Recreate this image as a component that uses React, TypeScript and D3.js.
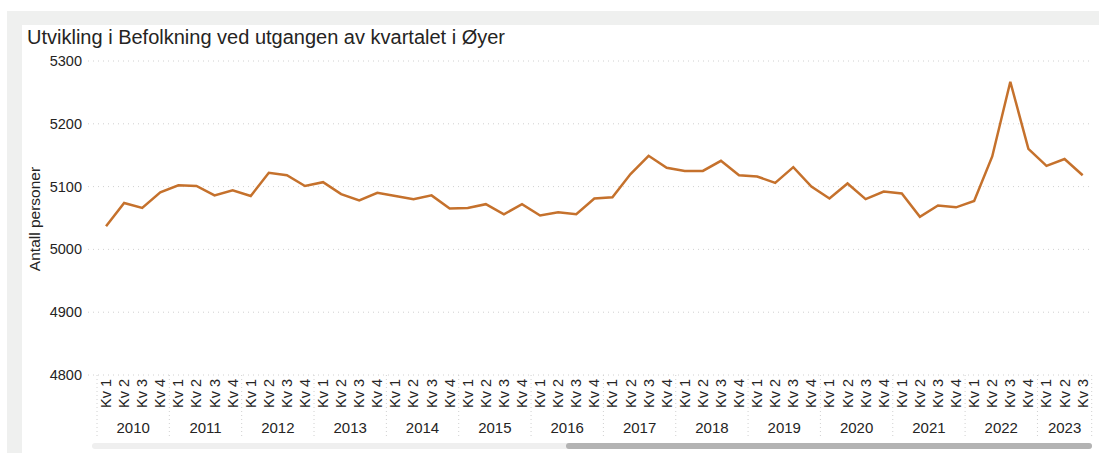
import React, { useRef, useEffect } from "react";
import * as d3 from "d3";

const years = ["2010", "2011", "2012", "2013", "2014", "2015", "2016", "2017", "2018", "2019", "2020", "2021", "2022", "2023"];
const quarters = ["Kv 1", "Kv 2", "Kv 3", "Kv 4"];
// population at end of each quarter, 2010 Kv 1 .. 2023 Kv 3
const population = [
  5037, 5074, 5066, 5091,
  5102, 5101, 5086, 5094,
  5085, 5122, 5118, 5101,
  5107, 5088, 5078, 5090,
  5085, 5080, 5086, 5065,
  5066, 5072, 5056, 5072,
  5054, 5059, 5056, 5081,
  5083, 5120, 5149, 5130,
  5125, 5125, 5141, 5118,
  5116, 5106, 5131, 5100,
  5081, 5105, 5080, 5092,
  5089, 5052, 5070, 5067,
  5077, 5148, 5267, 5160,
  5133, 5144, 5118,
];
const yTicks = [4800, 4900, 5000, 5100, 5200, 5300];

const W = 1099;
const H = 453;
const FONT = "'Liberation Sans', Arial, sans-serif";

export default function App() {
  const ref = useRef<SVGSVGElement>(null);

  useEffect(() => {
    const svg = d3.select(ref.current);
    svg.selectAll("*").remove();

    const points = population.map((v, i) => ({
      key: `${years[Math.floor(i / 4)]}-${i % 4}`,
      year: years[Math.floor(i / 4)],
      q: quarters[i % 4],
      value: v,
    }));

    const left = 97;
    const right = 1091.7;
    const top = 61;
    const bottom = 375;

    const x = d3.scalePoint<string>().domain(points.map(d => d.key)).range([left, right]).padding(0.5);
    const y = d3.scaleLinear().domain([4800, 5300]).range([bottom, top]);
    const step = x.step();

    // panel background + white card
    svg.append("rect").attr("x", 7).attr("y", 11).attr("width", W - 7).attr("height", H - 11).attr("fill", "#eff0ef");
    svg.append("rect").attr("x", 22).attr("y", 25).attr("width", W - 22).attr("height", H - 25).attr("fill", "#fff");

    svg.append("text")
      .attr("x", 27).attr("y", 44)
      .attr("font-family", FONT).attr("font-size", 20).attr("fill", "#252423")
      .text("Utvikling i Befolkning ved utgangen av kvartalet i Øyer");

    // gridlines
    svg.append("g").selectAll("line").data(yTicks).enter().append("line")
      .attr("x1", 88).attr("x2", right)
      .attr("y1", d => y(d)).attr("y2", d => y(d))
      .attr("stroke", "#d0d0d0").attr("stroke-width", 1).attr("stroke-dasharray", "1,4");

    svg.append("g").selectAll("text").data(yTicks).enter().append("text")
      .attr("x", 82).attr("y", d => y(d))
      .attr("text-anchor", "end").attr("dominant-baseline", "central")
      .attr("font-family", FONT).attr("font-size", 14.5).attr("fill", "#252423")
      .text(d => d);

    svg.append("text")
      .attr("transform", `translate(34,${(top + bottom) / 2 + 1}) rotate(-90)`)
      .attr("text-anchor", "middle").attr("dominant-baseline", "central")
      .attr("font-family", FONT).attr("font-size", 15.5).attr("fill", "#252423")
      .text("Antall personer");

    // quarter labels
    svg.append("g").selectAll("text").data(points).enter().append("text")
      .attr("transform", d => `translate(${x(d.key)},408) rotate(-90)`)
      .attr("dominant-baseline", "central")
      .attr("font-family", FONT).attr("font-size", 14.5).attr("fill", "#252423")
      .text(d => d.q);

    // year groups
    const groups = years.map(yr => {
      const ks = points.filter(p => p.year === yr).map(p => p.key);
      return { year: yr, x0: x(ks[0])! - step / 2, x1: x(ks[ks.length - 1])! + step / 2 };
    });
    const seps = [groups[0].x0, ...groups.map(g => g.x1)];
    svg.append("g").selectAll("line").data(seps).enter().append("line")
      .attr("x1", d => d).attr("x2", d => d)
      .attr("y1", bottom).attr("y2", 437)
      .attr("stroke", "#d0d0d0").attr("stroke-width", 1).attr("stroke-dasharray", "1,3");
    svg.append("g").selectAll("text").data(groups).enter().append("text")
      .attr("x", d => (d.x0 + d.x1) / 2).attr("y", 427)
      .attr("text-anchor", "middle").attr("dominant-baseline", "central")
      .attr("font-family", FONT).attr("font-size", 15).attr("fill", "#252423")
      .text(d => d.year);

    // scrollbar
    svg.append("rect").attr("x", 92).attr("y", 443).attr("width", 1000).attr("height", 6).attr("rx", 3).attr("fill", "#efefef");
    svg.append("rect").attr("x", 566).attr("y", 443).attr("width", 526).attr("height", 6).attr("rx", 3).attr("fill", "#b3b3b3");

    // line
    const line = d3.line<typeof points[number]>().x(d => x(d.key)!).y(d => y(d.value));
    svg.append("path").datum(points)
      .attr("d", line)
      .attr("fill", "none").attr("stroke", "#c5712c").attr("stroke-width", 2.5)
      .attr("stroke-linejoin", "miter");
  }, []);

  return <svg ref={ref} width={W} height={H} style={{ position: "absolute", left: 0, top: 0, display: "block" }} />;
}
